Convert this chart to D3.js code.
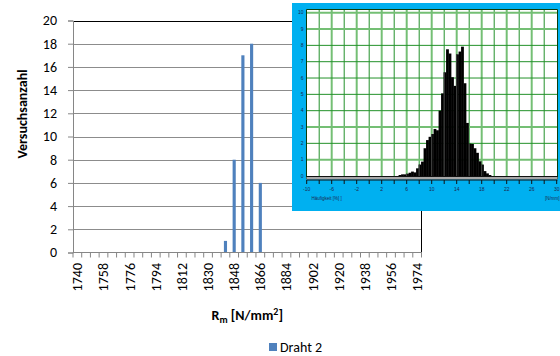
<!DOCTYPE html>
<html>
<head>
<meta charset="utf-8">
<script src="https://cdn.jsdelivr.net/npm/d3@7"></script>
<style>
  html, body { margin: 0; padding: 0; background: #ffffff; }
  svg { display: block; font-family: Carlito, Calibri, Lato, "Liberation Sans", sans-serif; }
</style>
</head>
<body>
<svg id="chart" width="560" height="356"></svg>
<script>
// Tensile strength classes (N/mm²) and number of tests per class
const categories = [1740, 1746, 1752, 1758, 1764, 1770, 1776, 1782, 1788, 1794,
                    1800, 1806, 1812, 1818, 1824, 1830, 1836, 1842, 1848, 1854,
                    1860, 1866, 1872, 1878, 1884, 1890, 1896, 1902, 1908, 1914,
                    1920, 1926, 1932, 1938, 1944, 1950, 1956, 1962, 1968, 1974];
const drahtValues = [0, 0, 0, 0, 0, 0, 0, 0, 0, 0,
                     0, 0, 0, 0, 0, 0, 0, 1, 8, 17,
                     18, 6, 0, 0, 0, 0, 0, 0, 0, 0,
                     0, 0, 0, 0, 0, 0, 0, 0, 0, 0];
const xTickLabels = [1740, 1758, 1776, 1794, 1812, 1830, 1848, 1866, 1884, 1902, 1920, 1938, 1956, 1974];
const yTicks = [0, 2, 4, 6, 8, 10, 12, 14, 16, 18, 20];
const seriesName = "Draht 2";

// Embedded frequency histogram (Häufigkeit in %)
const insetBinEdges = [4.7, 5.1, 5.5, 5.9, 6.3, 6.7, 7.1, 7.5, 7.9, 8.3,
                       8.7, 9.1, 9.5, 9.9, 10.3, 10.7, 11.1, 11.5, 11.9, 12.3,
                       12.7, 13.1, 13.5, 13.9, 14.3, 14.7, 15.1, 15.5, 15.9, 16.3,
                       16.7, 17.1, 17.5, 17.9, 18.3, 18.7, 19.1];
const insetBinWidth = 0.4;
const insetHeights = [0.06, 0.1, 0.1, 0.14, 0.2, 0.27, 0.22, 0.47, 0.7, 0.88,
                      1.7, 2.2, 2.4, 2.57, 2.88, 2.8, 4.0, 5.06, 6.35, 7.76,
                      7.5, 6.05, 5.52, 7.45, 7.62, 7.92, 5.68, 3.25, 1.98, 1.96,
                      1.7, 1.42, 0.9, 0.7, 0.3, 0.16, 0.06];
const insetXTicks = [-10, -6, -2, 2, 6, 10, 14, 18, 22, 26, 30];
const insetXGrid = [-8, -6, -4, -2, 0, 2, 4, 6, 8, 10, 12, 14, 16, 18, 20, 22, 24, 26, 28];
const insetYTicks = [0, 1, 2, 3, 4, 5, 6, 7, 8, 9, 10];

const svg = d3.select("#chart");
const plot = { left: 73, right: 421.5, top: 20.5, bottom: 252.5 };

const x = d3.scaleBand().domain(categories).range([plot.left, plot.right]).padding(0);
const y = d3.scaleLinear().domain([0, 20]).range([plot.bottom, plot.top]);

// horizontal gridlines
svg.append("g").selectAll("line")
  .data(yTicks.filter(v => v > 0 && v < 20))
  .join("line")
  .attr("x1", plot.left).attr("x2", plot.right)
  .attr("y1", d => Math.round(y(d)) + 0.5).attr("y2", d => Math.round(y(d)) + 0.5)
  .attr("stroke", "#8c8c8c").attr("stroke-width", 1);

// plot frame (top and right)
svg.append("path")
  .attr("d", `M${plot.left},${Math.round(y(20)) + 0.5}H${plot.right}V${plot.bottom}`)
  .attr("fill", "none").attr("stroke", "#000").attr("stroke-width", 1);

// bars
const barW = x.bandwidth() * 0.36;
svg.append("g").selectAll("rect")
  .data(categories.map((c, i) => ({ c, v: drahtValues[i] })).filter(d => d.v > 0))
  .join("rect")
  .attr("x", d => x(d.c) + (x.bandwidth() - barW) / 2)
  .attr("width", barW)
  .attr("y", d => y(d.v))
  .attr("height", d => y(0) - y(d.v))
  .attr("fill", "#4f81bd");

// y axis
const yAxis = svg.append("g")
  .attr("transform", `translate(${plot.left},0)`)
  .call(d3.axisLeft(y).tickValues(yTicks).tickSize(5).tickPadding(11));
yAxis.select(".domain").attr("stroke", "#868686");
yAxis.selectAll(".tick line").attr("stroke", "#868686");
yAxis.selectAll(".tick text").attr("font-size", 14).attr("fill", "#000")
  .style("font-family", "Carlito, Calibri, Lato, sans-serif");

// x axis: line, boundary ticks, rotated labels
const xg = svg.append("g");
xg.append("line")
  .attr("x1", plot.left).attr("x2", plot.right)
  .attr("y1", plot.bottom).attr("y2", plot.bottom)
  .attr("stroke", "#868686");
xg.selectAll("line.tk")
  .data(categories.map(c => x(c)).concat([plot.right]))
  .join("line").attr("class", "tk")
  .attr("x1", d => d).attr("x2", d => d)
  .attr("y1", plot.bottom).attr("y2", plot.bottom + 5)
  .attr("stroke", "#868686");
xg.selectAll("text")
  .data(xTickLabels)
  .join("text")
  .attr("transform", d => `translate(${x(d) + x.bandwidth() / 2},263) rotate(-90)`)
  .attr("text-anchor", "end")
  .attr("dy", "0.35em")
  .attr("font-size", 14)
  .attr("fill", "#000")
  .text(d => d);

// axis titles
svg.append("text")
  .attr("transform", "translate(22,114) rotate(-90)")
  .attr("text-anchor", "middle").attr("dy", "0.35em")
  .attr("font-size", 14).attr("font-weight", "bold")
  .text("Versuchsanzahl");

const xt = svg.append("text")
  .attr("x", (plot.left + plot.right) / 2).attr("y", 320)
  .attr("text-anchor", "middle")
  .attr("font-size", 14).attr("font-weight", "bold");
xt.append("tspan").text("R");
xt.append("tspan").attr("font-size", 10).attr("dy", 3).text("m");
xt.append("tspan").attr("dy", -3).text(" [N/mm");
xt.append("tspan").attr("font-size", 10).attr("dy", -5).text("2");
xt.append("tspan").attr("dy", 5).text("]");

// legend
const lg = svg.append("g").attr("transform", "translate(269,343)");
lg.append("rect").attr("width", 8).attr("height", 8).attr("fill", "#4f81bd");
lg.append("text").attr("x", 11).attr("y", 4).attr("dy", "0.36em")
  .attr("font-size", 14).attr("fill", "#000").text(seriesName);

// ---------- embedded histogram panel ----------
const inset = svg.append("g").style("font-family", "'Liberation Sans', Arial, sans-serif");
const ip = { left: 306.5, right: 557.5, top: 9.5, bottom: 179 };
const ix = d3.scaleLinear().domain([-10, 30]).range([306.7, 556.7]);
const iy = d3.scaleLinear().domain([0, 10]).range([176, 12.7]);

inset.append("rect").attr("x", 292).attr("y", 3).attr("width", 268).attr("height", 208)
  .attr("fill", "#00b0f0");
inset.append("rect").attr("x", ip.left).attr("y", ip.top)
  .attr("width", ip.right - ip.left).attr("height", ip.bottom - ip.top)
  .attr("fill", "#ffffff");

const lightX = new Set([-6, -2, 2, 6, 10, 14, 18, 22, 26]);
const lightY = new Set([10, 9, 3, 1]);
inset.append("g").selectAll("line")
  .data(insetXGrid).join("line")
  .attr("x1", d => ix(d)).attr("x2", d => ix(d))
  .attr("y1", ip.top).attr("y2", iy(0))
  .attr("stroke", d => lightX.has(d) ? "#74bf74" : "#23912a")
  .attr("stroke-width", d => lightX.has(d) ? 2 : 1);
inset.append("g").selectAll("line")
  .data(insetYTicks.filter(v => v > 0)).join("line")
  .attr("x1", ip.left).attr("x2", ip.right)
  .attr("y1", d => iy(d)).attr("y2", d => iy(d))
  .attr("stroke", d => lightY.has(d) ? "#74bf74" : "#23912a")
  .attr("stroke-width", d => lightY.has(d) ? 2 : 1);

// histogram bars
const bins = insetBinEdges.map((e, i) => ({ x0: e, x1: e + insetBinWidth, h: insetHeights[i] }));
const clip = svg.append("defs").append("clipPath").attr("id", "barsClip");
clip.selectAll("rect").data(bins).join("rect")
  .attr("x", d => ix(d.x0)).attr("width", d => ix(d.x1) - ix(d.x0) + 0.3)
  .attr("y", d => iy(d.h)).attr("height", d => iy(0) - iy(d.h));
inset.append("g").selectAll("rect").data(bins).join("rect")
  .attr("x", d => ix(d.x0)).attr("width", d => ix(d.x1) - ix(d.x0) + 0.3)
  .attr("y", d => iy(d.h)).attr("height", d => iy(0) - iy(d.h))
  .attr("fill", "#000");
// grid showing through the bars
inset.append("g").attr("clip-path", "url(#barsClip)").selectAll("line")
  .data(insetXGrid).join("line")
  .attr("x1", d => ix(d)).attr("x2", d => ix(d))
  .attr("y1", ip.top).attr("y2", iy(0))
  .attr("stroke", "#4a4a4a").attr("stroke-width", 1);

// frame, zero line and axis strip
inset.append("path")
  .attr("d", `M${ip.left},${ip.bottom}V${ip.top}H${ip.right}V${ip.bottom}`)
  .attr("fill", "none").attr("stroke", "#0b3d0b").attr("stroke-width", 1);
inset.append("line").attr("x1", ip.left).attr("x2", ip.right)
  .attr("y1", iy(0) + 0.5).attr("y2", iy(0) + 0.5).attr("stroke", "#111");
inset.append("rect").attr("x", ip.left).attr("y", iy(0) + 1)
  .attr("width", ip.right - ip.left).attr("height", 2.5).attr("fill", "#a8a8a8");
inset.append("line").attr("x1", ip.left).attr("x2", ip.right)
  .attr("y1", 180).attr("y2", 180).attr("stroke", "#111");
inset.append("g").selectAll("line")
  .data([-10].concat(insetXGrid, [30])).join("line")
  .attr("x1", d => ix(d)).attr("x2", d => ix(d))
  .attr("y1", 180).attr("y2", 184)
  .attr("stroke", "#111");

inset.append("g").selectAll("text")
  .data(insetXTicks).join("text")
  .attr("x", d => ix(d)).attr("y", 189).attr("dy", "0.35em")
  .attr("text-anchor", "middle").attr("font-size", 5).attr("fill", "#1c2a50")
  .text(d => d);
inset.append("g").selectAll("text")
  .data(insetYTicks).join("text")
  .attr("x", 303.5).attr("y", d => iy(d)).attr("dy", "0.35em")
  .attr("text-anchor", "end").attr("font-size", 5).attr("fill", "#1c2a50")
  .text(d => d);
inset.append("text").attr("x", 311.5).attr("y", 198).attr("dy", "0.35em")
  .attr("font-size", 4.5).attr("fill", "#1c2a50").text("Häufigkeit [%] ]");
inset.append("text").attr("x", 559.5).attr("y", 198).attr("dy", "0.35em")
  .attr("text-anchor", "end")
  .attr("font-size", 4.5).attr("fill", "#1c2a50").text("[N/mm]");
</script>
</body>
</html>
